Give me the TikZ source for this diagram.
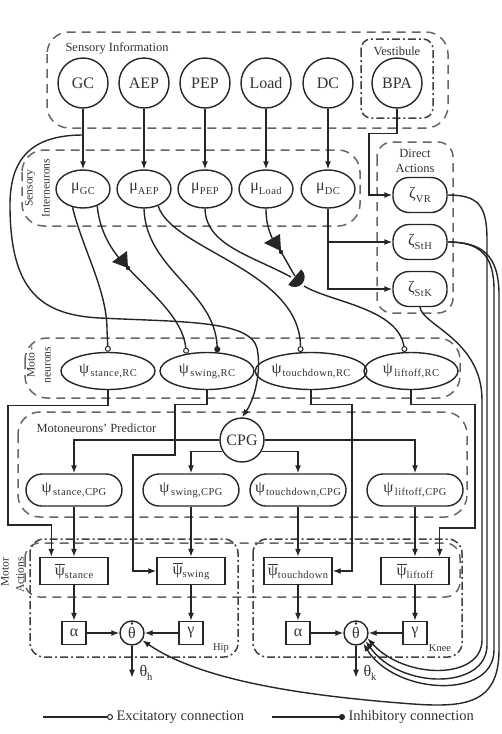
\documentclass[tikz,border=0pt]{standalone}
\usepackage{fontspec}
\setmainfont{Liberation Serif}
\usetikzlibrary{arrows.meta,shapes.geometric,calc}
\newcommand\sbs[1]{\raisebox{-0.45ex}{\fontsize{10.5}{10.5}\selectfont\addfontfeature{LetterSpace=4}#1}}
\newcommand\psibar{$\overline{\hbox{ψ}}$}
\begin{document}
\begin{tikzpicture}[x=1pt,y=-1pt,
  every node/.style={text=black!80},
  ln/.style={draw=black!85, line width=1.4pt},
  arr/.style={ln, -{Latex[length=8pt,width=6pt]}},
  exc/.style={ln, -{Circle[open,length=6pt,width=6pt,fill=white,line width=1pt]}},
  inh/.style={ln, -{Circle[length=6pt,width=6pt]}},
  grp/.style={draw=black!60, line width=1.5pt, dash pattern=on 9pt off 6pt, rounded corners=22pt},
  grpdd/.style={draw=black!75, line width=1.5pt, dash pattern=on 8pt off 3pt on 2pt off 3pt, rounded corners=14pt},
  big/.style={font=\fontsize{16}{16}\selectfont},
  sens/.style={circle, draw=black!85, line width=1.4pt, minimum size=50pt, inner sep=0pt, big},
  inter/.style={ellipse, draw=black!85, line width=1.4pt, minimum width=54pt, minimum height=38pt, inner sep=0pt, big},
  zeta/.style={rectangle, rounded corners=16pt, draw=black!85, line width=1.4pt, minimum width=54pt, minimum height=35pt, inner sep=0pt, big},
  rc/.style={ellipse, draw=black!85, line width=1.4pt, minimum width=94pt, minimum height=37pt, inner sep=0pt, big},
  cpgn/.style={rectangle, rounded corners=16pt, draw=black!85, line width=1.4pt, minimum width=96pt, minimum height=32pt, inner sep=0pt, big},
  mbox/.style={rectangle, draw=black!85, line width=1.4pt, minimum width=68pt, minimum height=27pt, inner sep=0pt, big},
  sbox/.style={rectangle, draw=black!85, line width=1.4pt, minimum width=24pt, minimum height=23pt, inner sep=0pt, big},
  dotc/.style={circle, draw=black!85, line width=1.4pt, minimum size=24pt, inner sep=0pt, big},
  lab/.style={font=\fontsize{12.5}{12.5}\selectfont},
  slab/.style={font=\fontsize{11.5}{11.5}\selectfont},
]
\useasboundingbox (0,0) rectangle (501,734);

% ---------- group boxes ----------
\draw[grp] (47,32) rectangle (448,128);
\draw[grpdd, rounded corners=10pt] (361,39) rectangle (433,118);
\draw[grp] (22,150) rectangle (360,226);
\draw[grp, rounded corners=15pt] (377,142) rectangle (453,313);
\draw[grp] (25,338) rectangle (460,398);
\draw[grp] (18,412) rectangle (467,517);
\draw[grp, rounded corners=15pt] (25,543) rectangle (460,597);
\draw[grpdd] (30,539) rectangle (238,657);
\draw[grpdd] (253,539) rectangle (462,657);

% ---------- group labels ----------
\node[lab, anchor=west] (lsi) at (62,48) {Sensory Information};
\node[lab] (lves) at (397,51) {Vestibule};
\node[slab, rotate=90] (lsen) at (30,188) {Sensory};
\node[slab, rotate=90] (lint) at (46,188) {Interneurons};
\node[lab] (ldir) at (415,153) {Direct};
\node[lab] (lact) at (415,168) {Actions};
\node[slab, rotate=90] (lmoto) at (31,362) {Moto -};
\node[slab, rotate=90] (lneur) at (48,365) {neurons};
\node[lab, anchor=west] (lpred) at (33,428) {Motoneurons’ Predictor};
\node[slab, rotate=90] (lmot) at (5,572) {Motor};
\node[slab, rotate=90] (lacts) at (20,575) {Actions};
\node[font=\fontsize{10.5}{10.5}\selectfont] (lhip) at (221,648) {Hip};
\node[font=\fontsize{10.5}{10.5}\selectfont] (lknee) at (440,648) {Knee};

% ---------- sensory information ----------
\node[sens] (gc) at (83,83) {GC};
\node[sens] (aep) at (144,83) {AEP};
\node[sens] (pep) at (205,83) {PEP};
\node[sens] (load) at (266,83) {Load};
\node[sens] (dc) at (328,83) {DC};
\node[sens] (bpa) at (397,83) {BPA};

% ---------- sensory interneurons ----------
\node[inter] (mgc) at (83,189) {μ\sbs{GC}};
\node[inter] (maep) at (144,189) {μ\sbs{AEP}};
\node[inter] (mpep) at (205,189) {μ\sbs{PEP}};
\node[inter] (mload) at (266,189) {μ\sbs{Load}};
\node[inter] (mdc) at (328,189) {μ\sbs{DC}};

% ---------- direct actions ----------
\node[zeta] (zvr) at (420,195) {ζ\sbs{VR}};
\node[zeta] (zsth) at (420,242) {ζ\sbs{StH}};
\node[zeta] (zstk) at (420,289) {ζ\sbs{StK}};

% ---------- motoneurons ----------
\node[rc] (rcst) at (108,371) {ψ\kern1.5pt\sbs{stance,RC}};
\node[rc] (rcsw) at (207,371) {ψ\kern1.5pt\sbs{swing,RC}};
\node[rc] (rctd) at (311,371) {ψ\kern1pt\sbs{touchdown,RC}};
\node[rc] (rclo) at (411,371) {ψ\kern1.5pt\sbs{liftoff,RC}};

% ---------- predictor ----------
\node[circle, draw=black!85, line width=1.4pt, minimum size=44pt, inner sep=0pt, big] (cpg) at (242,440) {CPG};
\node[cpgn] (pcst) at (74,490) {ψ\kern1.5pt\sbs{stance,CPG}};
\node[cpgn] (pcsw) at (191,490) {ψ\kern1.5pt\sbs{swing,CPG}};
\node[cpgn] (pctd) at (298,490) {ψ\kern1pt\sbs{touchdown,CPG}};
\node[cpgn] (pclo) at (415,490) {ψ\kern1.5pt\sbs{liftoff,CPG}};

% ---------- motor actions ----------
\node[mbox] (bst) at (74,571) {\psibar\sbs{stance}};
\node[mbox] (bsw) at (191,571) {\psibar\sbs{swing}};
\node[mbox] (btd) at (298,571) {\psibar\sbs{touchdown}};
\node[mbox] (blo) at (415,571) {\psibar\sbs{liftoff}};

\node[sbox] (ah) at (74,633) {α};
\node[dotc] (th) at (132,633) {\raisebox{-1.5pt}{θ}};
\node[sbox] (gh) at (191,633) {γ};
\node[sbox] (ak) at (298,633) {α};
\node[dotc] (tk) at (356,633) {\raisebox{-1.5pt}{θ}};
\node[sbox] (gk) at (415,633) {γ};
\fill[black!80] ($(th.center)+(0,-9.5)$) circle (1.3);
\fill[black!80] ($(tk.center)+(0,-9.5)$) circle (1.3);

\node[anchor=west, big] (thh) at (136,673) {θ\sbs{h}};
\node[anchor=west, big] (thk) at (360,673) {θ\sbs{k}};

% ---------- sensory -> interneurons ----------
\foreach \a/\b in {gc/mgc, aep/maep, pep/mpep, load/mload, dc/mdc}
  \draw[arr] (\a.south) -- (\b.north);

% BPA -> zeta VR
\draw[arr] (bpa.south) -- ++(0,25) -| (369,195) -- (zvr.west);
% DC -> StH, StK
\draw[arr] (mdc.south) |- (zstk.west);
\draw[arr] (mdc.south |- zsth.west) -- (zsth.west);

% GC -> CPG
\coordinate (gcb) at (83,135);
\draw[arr] (gcb) .. controls (30,135) and (10,160) .. (10,205)
  .. controls (10,290) and (40,315) .. (100,318)
  .. controls (180,322) and (250,320) .. (257,348)
  .. controls (262,372) and (254,400) .. (cpg.north);

% interneurons -> motoneurons
\draw[exc] (mgc.240) .. controls (83,250) and (107,290) .. (107,330) -- (rcst.north);
\draw[exc] (mgc.-50) .. controls (100,235) and (115,255) .. (128,268)
  .. controls (150,292) and (183,318) .. (rcsw.140);
\fill[black!85] (112,262) -- (127,251) -- (128,268) -- cycle;
\fill[black!85] (128,268) circle (2.2);

\draw[inh] (maep.south) .. controls (146,270) and (215,290) .. (rcsw.61);
\draw[exc] (maep.-50) .. controls (172,250) and (300,270) .. (rctd.119);

\draw[ln] (mpep.south) .. controls (206,245) and (250,255) .. (291,277);
\draw[ln] (mload.south) .. controls (266,225) and (270,238) .. (281,252)
  .. controls (286,260) and (290,268) .. (295,276);
\fill[black!85] (264,243) -- (280,234) -- (281,251) -- cycle;
\fill[black!85] (281,252) circle (2.2);
\begin{scope}[shift={(297,279)}, rotate=-40]
  \fill[black!85] (-3,-10) -- (-3,10) arc[start angle=90, end angle=-90, radius=10] -- cycle;
\end{scope}
\draw[exc] (304,286) .. controls (330,302) and (398,308) .. (rclo.108);

% motoneurons -> motor actions
\draw[arr] (rcst.south) -- ++(0,15) -| (8,525) -| ([xshift=12pt]bst.north west);
\draw[arr] (rcsw.south) -- ++(0,14) -| (175,455) -| (bsw.west -| 133,0) -- (bsw.west);
\draw[arr] (rctd.south) -- ++(0,14) -| (btd.east -| 352,0) -- (btd.east);
\draw[arr] (rclo.south) -- ++(0,14) -| (475,528) -| ([xshift=-10pt]blo.north east);

% CPG -> predictors
\draw[arr] (cpg.west) -| (pcst.north);
\draw[arr] (cpg.east) -| (pclo.north);
\draw[arr] (cpg.210) -| (pcsw.north);
\draw[arr] (cpg.-30) -| (pctd.north);

\foreach \a/\b in {pcst/bst, pcsw/bsw, pctd/btd, pclo/blo}
  \draw[arr] (\a.south) -- (\b.north);

% motor actions
\draw[arr] (bst.south) -- (ah.north);
\draw[arr] (bsw.south) -- (gh.north);
\draw[arr] (btd.south) -- (ak.north);
\draw[arr] (blo.south) -- (gk.north);
\draw[arr] (ah.east) -- (th.west);
\draw[arr] (gh.west) -- (th.east);
\draw[arr] (ak.east) -- (tk.west);
\draw[arr] (gk.west) -- (tk.east);
\draw[arr] (th.south) -- ++(0,32);
\draw[arr] (tk.south) -- ++(0,32);

% direct actions -> joints
\draw[arr] (zstk.south) .. controls (422,325) and (482,340) .. (482,400)
  -- (482,640) .. controls (482,680) and (405,680) .. (tk.-25);
\draw[arr] (zvr.east) .. controls (478,195) and (487,205) .. (487,240)
  -- (487,645) .. controls (487,690) and (400,690) .. (tk.-40);
\draw[arr] (zsth.east) .. controls (480,242) and (494,255) .. (494,290)
  -- (494,650) .. controls (494,700) and (395,695) .. (tk.-55);
\draw[arr] (zsth.east) .. controls (482,242) and (499,255) .. (499,295)
  -- (499,650) .. controls (499,708) and (460,708) .. (400,703)
  .. controls (300,695) and (200,680) .. (th.-35);

% ---------- legend ----------
\coordinate (le1) at (43,717);
\node[anchor=west, font=\fontsize{14.5}{14.5}\selectfont] (lexc) at (113,717) {Excitatory connection};
\draw[exc] (le1) -- (lexc.west);
\coordinate (li1) at (272,717);
\node[anchor=west, font=\fontsize{14.5}{14.5}\selectfont] (linh) at (345,717) {Inhibitory connection};
\draw[inh] (li1) -- (linh.west);
\end{tikzpicture}
\end{document}
